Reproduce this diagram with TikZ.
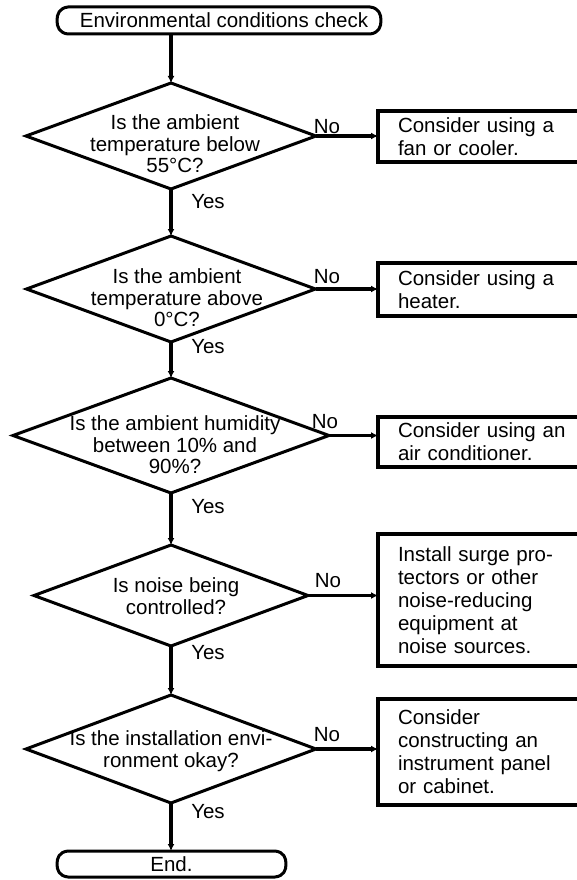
\documentclass[tikz,border=0pt]{standalone}
\usepackage{fontspec}
\setmainfont{Liberation Sans}
\usetikzlibrary{shapes.geometric,arrows.meta,calc}
\newcommand{\termoutline}[1]{%
  \draw[termline] ($(#1.north west)+(11,0)$) -- ($(#1.north east)+(-11,0)$)
    .. controls ($(#1.north east)+(-2,1)$) and ($(#1.east)+(0,-6)$) .. (#1.east)
    .. controls ($(#1.east)+(0,6)$) and ($(#1.south east)+(-2,-1)$) .. ($(#1.south east)+(-11,0)$)
    -- ($(#1.south west)+(11,0)$)
    .. controls ($(#1.south west)+(2,-1)$) and ($(#1.west)+(0,6)$) .. (#1.west)
    .. controls ($(#1.west)+(0,-6)$) and ($(#1.north west)+(2,1)$) .. cycle;}
\begin{document}
\begin{tikzpicture}[x=1pt,y=-1pt,
  every node/.style={font=\fontsize{20.5}{22}\selectfont},
  dia/.style={draw, diamond, line width=3pt, inner sep=0pt, outer sep=0pt},
  dtext/.style={align=center, inner sep=0pt, font=\fontsize{20.5}{21.5}\selectfont},
  actbox/.style={draw, rectangle, line width=3.4pt, anchor=west, text width=175pt,
    inner xsep=20pt, inner ysep=0pt, align=left, outer sep=0pt,
    font=\fontsize{20.5}{23}\selectfont},
  termnode/.style={inner sep=0pt, outer sep=0pt},
  termline/.style={line width=3pt, line join=round},
  conn/.style={line width=3.2pt, -{Latex[length=7pt,width=7pt]}},
  lbl/.style={inner sep=0pt}]
\useasboundingbox (0,0) rectangle (577,880);

% terminals
\node[termnode, minimum width=324pt, minimum height=27pt] (start) at (219,20.5)
  {\hspace*{10pt}Environmental conditions check};
\termoutline{start}
\node[termnode, minimum width=229pt, minimum height=26pt] (endt) at (171.5,864) {End.};
\termoutline{endt}

% decisions
\node[dia, minimum width=290pt, minimum height=106pt] (d1) at (171,136) {};
\node[dtext] (d1t) at (175,144) {Is the ambient\\temperature below\\55°C?};
\node[dia, minimum width=289pt, minimum height=106pt] (d2) at (171,289) {};
\node[dtext] (d2t) at (177,298) {Is the ambient\\temperature above\\0°C?};
\node[dia, minimum width=316pt, minimum height=115pt] (d3) at (171,435.5) {};
\node[dtext] (d3t) at (175,445) {Is the ambient humidity\\between 10\% and\\90\%?};
\node[dia, minimum width=274pt, minimum height=101pt] (d4) at (171,595.5) {};
\node[dtext] (d4t) at (176,596) {Is noise being\\controlled?};
\node[dia, minimum width=290pt, minimum height=108pt] (d5) at (171,749) {};
\node[dtext] (d5t) at (171,751) {Is the installation envi-\\ronment okay?};

% actions
\node[actbox, minimum height=51pt] (b1) at (378,136.5) {Consider using a\\fan or cooler.};
\node[actbox, minimum height=53pt] (b2) at (378,289.5) {Consider using a\\heater.};
\node[actbox, minimum height=50pt] (b3) at (378,442) {Consider using an\\air conditioner.};
\node[actbox, minimum height=132pt] (b4) at (378,600) {Install surge pro-\\tectors or other\\noise-reducing\\equipment at\\noise sources.};
\node[actbox, minimum height=106pt] (b5) at (378,752) {Consider\\constructing an\\instrument panel\\or cabinet.};

% main flow
\draw[conn] (start.south -| d1.north) -- (d1.north);
\draw[conn] (d1.south) -- (d2.north);
\draw[conn] (d2.south) -- (d3.north);
\draw[conn] (d3.south) -- (d4.north);
\draw[conn] (d4.south) -- (d5.north);
\draw[conn] (d5.south) -- (d5.south |- endt.north);

% no branches
\draw[conn] (d1.east) -- (d1.east -| b1.west);
\draw[conn] (d2.east) -- (d2.east -| b2.west);
\draw[conn] (d3.east) -- (d3.east -| b3.west);
\draw[conn] (d4.east) -- (d4.east -| b4.west);
\draw[conn] (d5.east) -- (d5.east -| b5.west);

% labels
\node[lbl] (no1) at (327,127) {No};
\node[lbl] (no2) at (327,277) {No};
\node[lbl] (no3) at (325,422) {No};
\node[lbl] (no4) at (328,581) {No};
\node[lbl] (no5) at (327,735) {No};
\node[lbl] (yes1) at (208,202) {Yes};
\node[lbl] (yes2) at (208,347) {Yes};
\node[lbl] (yes3) at (208,507) {Yes};
\node[lbl] (yes4) at (208,653) {Yes};
\node[lbl] (yes5) at (208,812) {Yes};
\end{tikzpicture}
\end{document}
